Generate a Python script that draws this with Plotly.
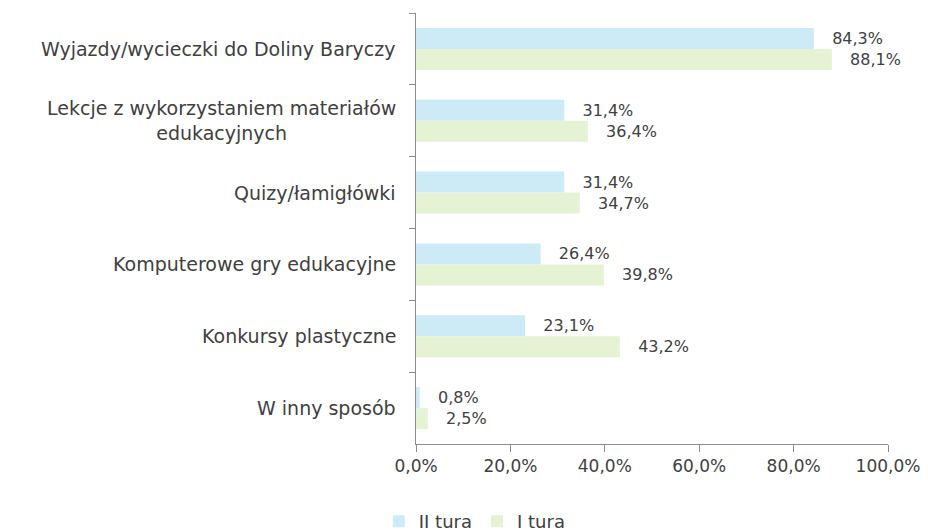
import plotly.graph_objects as go

categories = [
    "Wyjazdy/wycieczki do Doliny Baryczy",
    "Lekcje z wykorzystaniem materiałów<br>edukacyjnych",
    "Quizy/łamigłówki",
    "Komputerowe gry edukacyjne",
    "Konkursy plastyczne",
    "W inny sposób",
]
tura2 = [84.3, 31.4, 31.4, 26.4, 23.1, 0.8]
tura1 = [88.1, 36.4, 34.7, 39.8, 43.2, 2.5]
xticks = [0, 20, 40, 60, 80, 100]
xtick_labels = ["0,0%", "20,0%", "40,0%", "60,0%", "80,0%", "100,0%"]

FONT = "DejaVu Sans"
TXT = "#404040"

fig = go.Figure()
fig.add_trace(go.Bar(
    name="II tura", y=categories, x=tura2, orientation="h",
    marker=dict(color="#cdebf6", line=dict(width=0)),
    texttemplate="\u00a0\u00a0\u00a0%{x:.1f}%", textposition="outside",
    textfont=dict(family=FONT, size=16, color=TXT), cliponaxis=False,
))
fig.add_trace(go.Bar(
    name="I tura", y=categories, x=tura1, orientation="h",
    marker=dict(color="#e6f2d4", line=dict(width=0)),
    texttemplate="\u00a0\u00a0\u00a0%{x:.1f}%", textposition="outside",
    textfont=dict(family=FONT, size=16, color=TXT), cliponaxis=False,
))

for c in categories:
    fig.add_annotation(
        x=0, xref="paper", y=c, yref="y", xanchor="right", xshift=-18,
        text=c, showarrow=False, align="center",
        font=dict(family=FONT, size=19, color=TXT),
    )

fig.update_layout(
    width=928, height=532,
    margin=dict(l=408, r=48, t=5, b=96),
    paper_bgcolor="white", plot_bgcolor="white",
    barmode="group", bargap=0.415, bargroupgap=0,
    separators=", ",
    showlegend=True,
    legend=dict(orientation="h", xref="container", x=0.503, xanchor="center",
                yref="container", y=0.0, yanchor="bottom",
                font=dict(family=FONT, size=18, color=TXT), itemwidth=30),
    font=dict(family=FONT, color=TXT),
    xaxis=dict(
        range=[0, 100], tickvals=xticks, ticktext=xtick_labels,
        showgrid=False, zeroline=False, showline=True, linecolor="#8c8c8c",
        ticks="outside", ticklen=7, tickcolor="#8c8c8c",
        tickfont=dict(family=FONT, size=17, color=TXT),
    ),
    yaxis=dict(
        autorange="reversed", showticklabels=False, showgrid=False, zeroline=False,
        showline=True, linecolor="#8c8c8c", ticks="outside", ticklen=6,
        tickcolor="#8c8c8c", tickson="boundaries",
    ),
)

fig.write_html("out.html")
